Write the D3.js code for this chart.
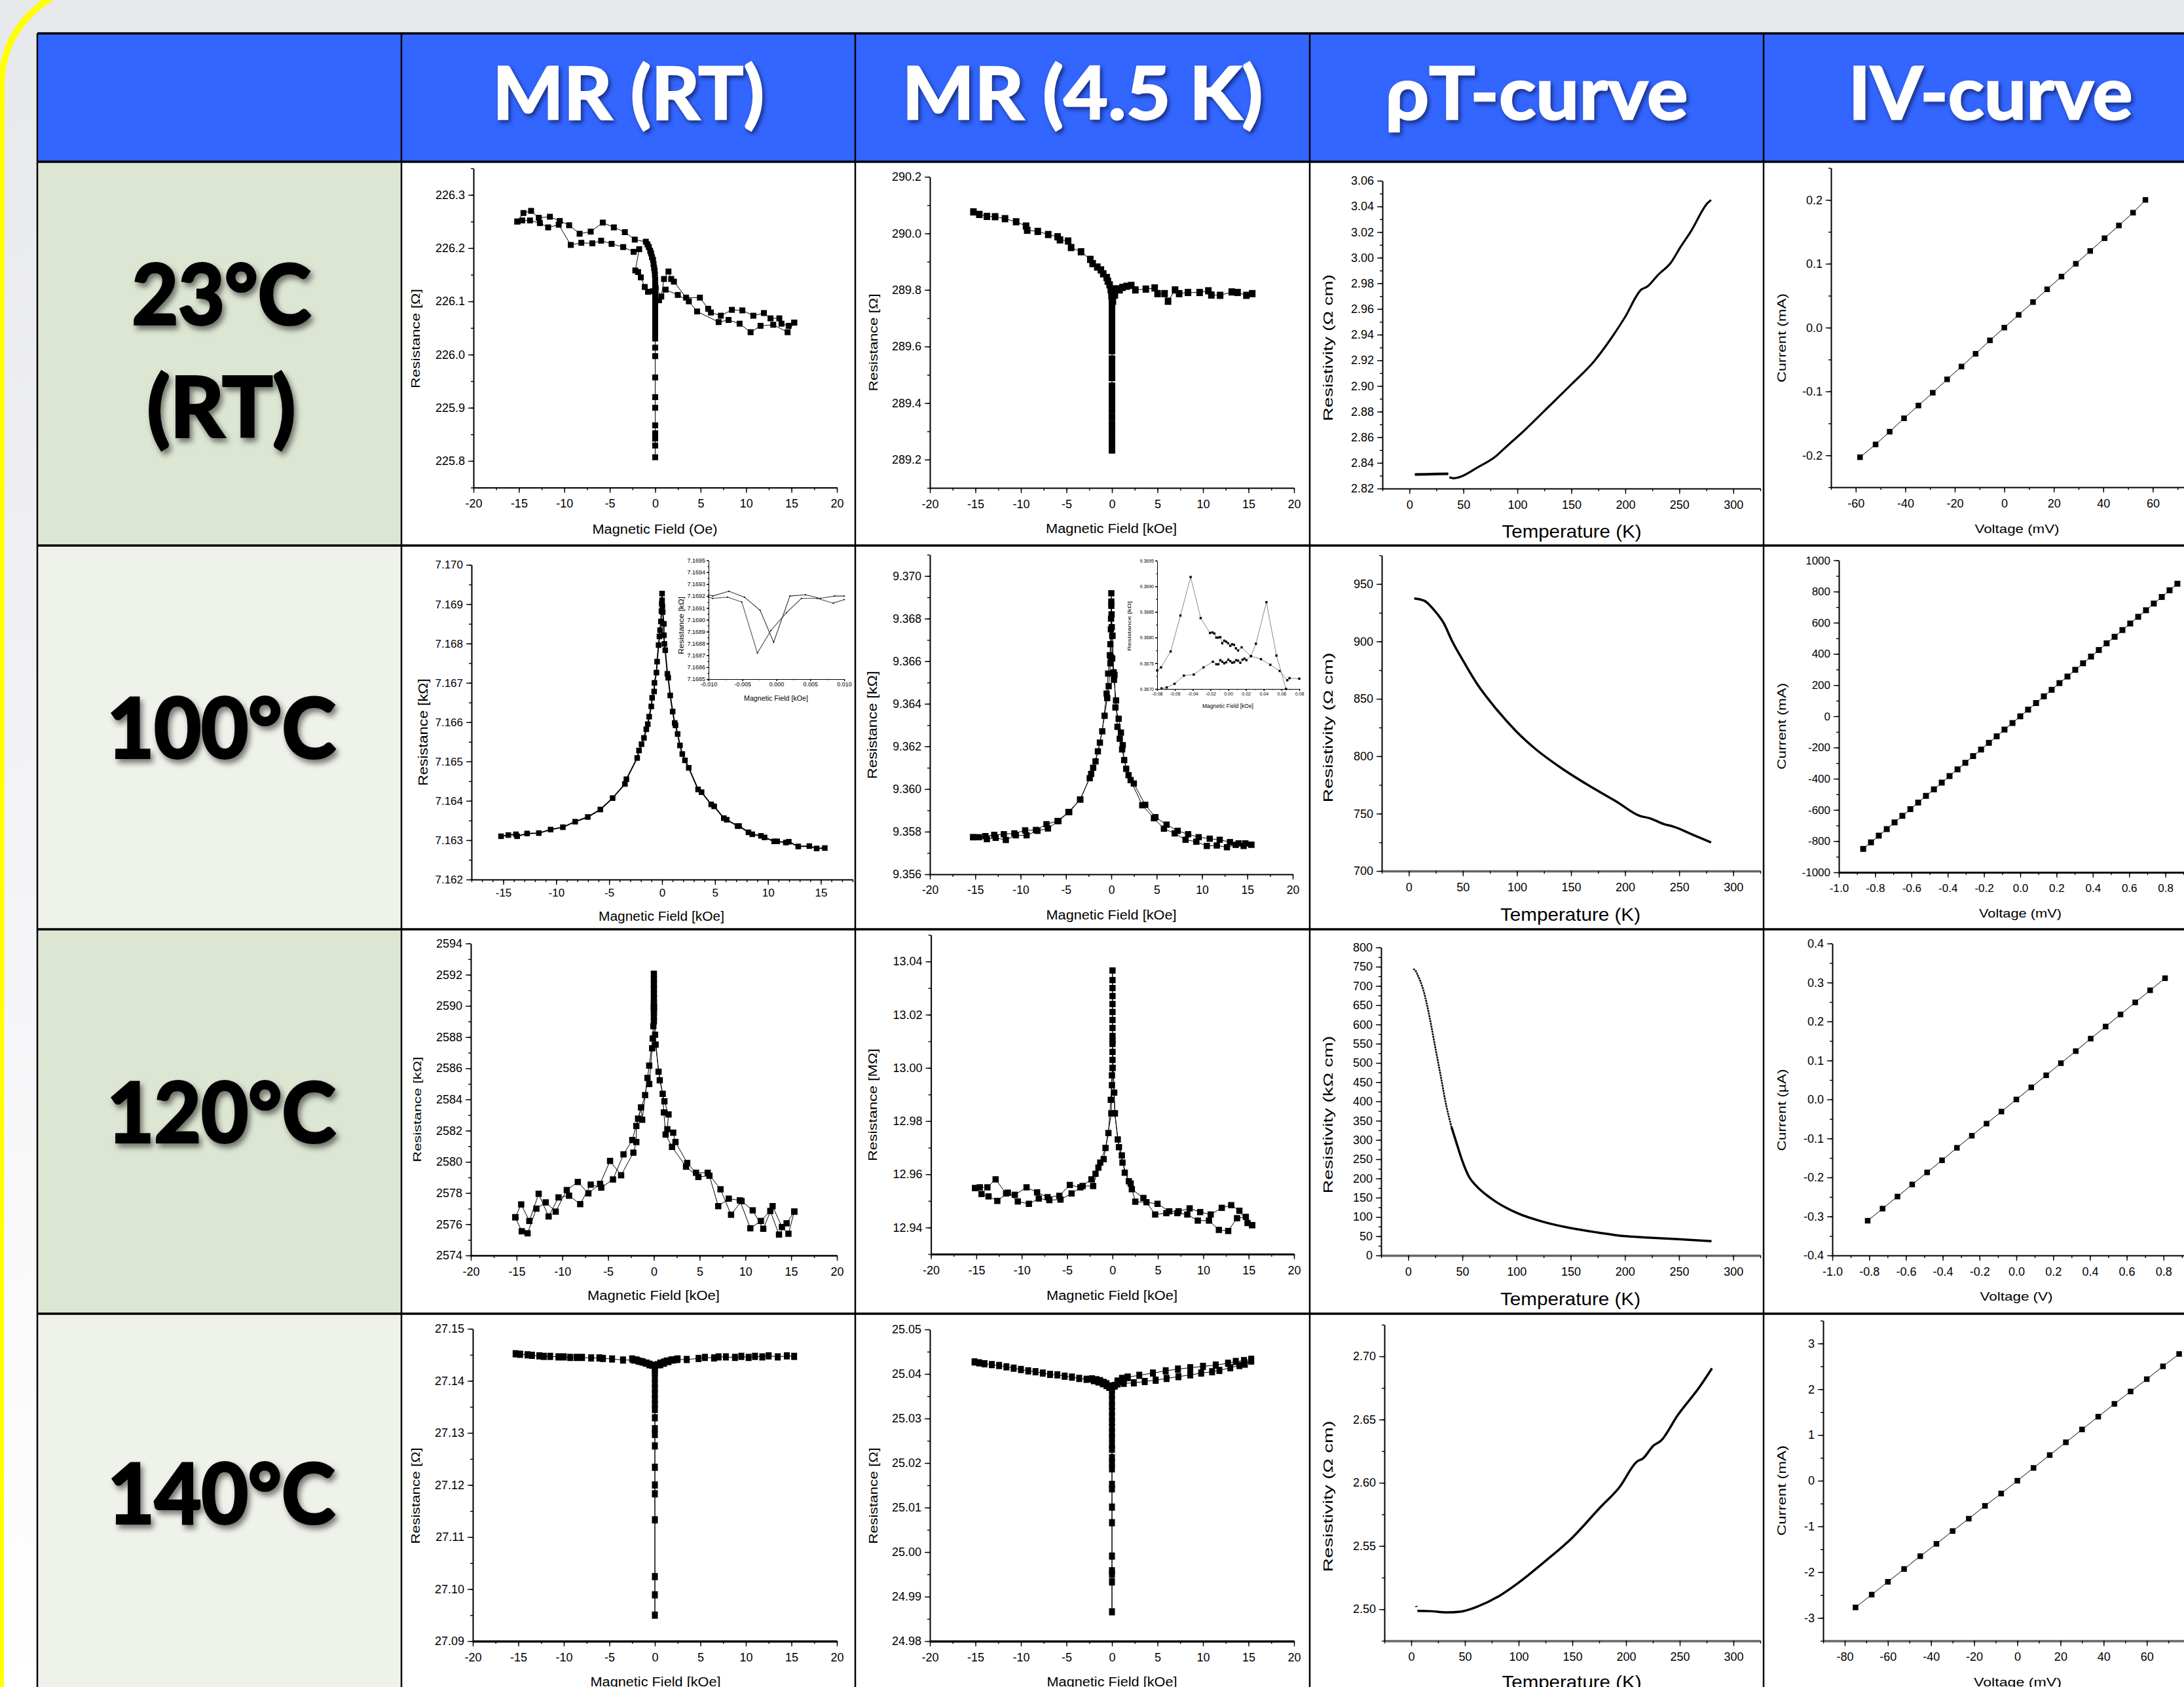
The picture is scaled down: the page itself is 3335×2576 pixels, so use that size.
<!DOCTYPE html>
<html lang="en">
<head>
<meta charset="UTF-8">
<title>MR, resistivity and IV summary table</title>
<script src="https://d3js.org/d3.v7.min.js"></script>
<style>
  html, body { margin: 0; padding: 0; background: #fff; overflow: hidden; }
  .plot text { font-family: "Liberation Sans", Arial, sans-serif; fill: #000; }
  .head { font-family: Lato, sans-serif; font-weight: 700; }
</style>
</head>
<body>
<svg id="page" width="3335" height="2576"></svg>
<script>
// table text
const headers = ["MR (RT)", "MR (4.5 K)", "\u03c1T-curve", "IV-curve"];
const rowLabels = [["23\u00b0C", "(RT)"], ["100\u00b0C"], ["120\u00b0C"], ["140\u00b0C"]];

// tick lists
const fieldTicks = [-20, -15, -10, -5, 0, 5, 10, 15, 20];
const field100Ticks = [-15, -10, -5, 0, 5, 10, 15];
const tempTicks = [0, 50, 100, 150, 200, 250, 300];
const unitVoltTicks = [-1, -0.8, -0.6, -0.4, -0.2, 0, 0.2, 0.4, 0.6, 0.8];

// 23C, MR at room temperature
const mr23RtA = [[-15.17,226.25],[-14.5,226.266],[-13.66,226.27],[-12.81,226.257],[-11.59,226.259],[-10.5,226.251],[-9.47,226.243],[-8.32,226.227],[-7.1,226.231],[-5.77,226.248],[-4.55,226.239],[-3.34,226.23],[-2.25,226.216],[-1.03,226.212],[-0.85,226.207],[-0.7,226.202],[-0.55,226.195],[-0.45,226.19],[-0.35,226.183],[-0.24,226.178],[-0.18,226.17],[-0.12,226.163],[-0.06,226.158],[-0.03,226.15],[0,226.14],[0,226.13],[0,226.12],[0,226.11],[0,226.1],[0,226.09],[0,226.08],[0,226.07],[0,226.06],[0,226.05],[0,226.04],[0,226.03],[0,226.013],[0,225.997],[0,225.957],[0,225.92],[0,225.867],[0,225.852],[0,225.842],[0,225.829],[0,225.807],[0,225.9],[0,226.05],[0,226.09],[0.42,226.102],[1.15,226.122],[2.49,226.112],[3.7,226.1],[4.61,226.081],[6.98,226.061],[8.07,226.065],[9.29,226.058],[10.5,226.042],[11.59,226.054],[12.99,226.056],[14.57,226.042],[15.3,226.06]];
const mr23RtB = [[-15.17,226.25],[-14.63,226.252],[-13.78,226.252],[-12.69,226.247],[-11.78,226.239],[-10.62,226.244],[-9.29,226.206],[-8.13,226.21],[-6.92,226.209],[-5.95,226.214],[-4.8,226.208],[-3.52,226.202],[-2.37,226.193],[-1.76,226.198],[-2.19,226.158],[-1.88,226.155],[-1.58,226.145],[-1.15,226.127],[-0.79,226.118],[-0.24,226.119],[0.06,226.125],[0.67,226.109],[0.97,226.142],[1.46,226.156],[1.76,226.142],[2.06,226.137],[3.4,226.107],[4.92,226.107],[5.83,226.086],[6.13,226.079],[7.22,226.073],[8.44,226.084],[9.59,226.083],[10.8,226.073],[11.96,226.078],[12.69,226.068],[13.66,226.068],[13.9,226.058],[14.69,226.054],[15.3,226.06]];

// 23C, MR at 4.5 K
const mr23Low = [[-15.22,290.076],[-14.57,290.067],[-13.74,290.06],[-12.84,290.059],[-11.75,290.052],[-10.53,290.041],[-9.44,290.026],[-9.31,290.011],[-8.15,290.007],[-7,289.996],[-5.97,289.988],[-5.71,289.977],[-4.82,289.973],[-4.49,289.95],[-3.4,289.935],[-2.38,289.908],[-2.12,289.893],[-1.61,289.881],[-1.22,289.871],[-0.96,289.857],[-0.58,289.844],[-0.45,289.831],[-0.26,289.818],[-0.13,289.8],[-0.05,289.78],[0,289.76],[0,289.74],[0,289.72],[0,289.7],[0,289.68],[0,289.66],[0,289.64],[0,289.62],[0,289.6],[0,289.585],[0,289.556],[0,289.54],[0,289.525],[0,289.505],[0,289.49],[0,289.46],[0,289.445],[0,289.43],[0,289.41],[0,289.395],[0,289.375],[0,289.35],[0,289.325],[0,289.31],[0,289.295],[0,289.27],[0,289.255],[0,289.234],[0,289.5],[0.1,289.76],[0.32,289.782],[0.45,289.804],[0.83,289.8],[1.16,289.809],[1.61,289.813],[2.12,289.816],[2.57,289.8],[3.72,289.803],[4.69,289.807],[5.01,289.787],[5.78,289.787],[6.16,289.76],[6.93,289.8],[7.38,289.787],[8.35,289.791],[9.63,289.791],[10.59,289.797],[10.92,289.782],[11.88,289.781],[13.16,289.793],[13.8,289.791],[14.77,289.781],[15.41,289.787]];

// 100C, MR at room temperature
const mr100Rt = [[-15.21,7.1631],[-14.52,7.16313],[-13.8,7.16315],[-13.69,7.1631],[-12.75,7.16317],[-11.64,7.16318],[-10.53,7.16327],[-9.37,7.16333],[-8.21,7.16347],[-7.02,7.16359],[-5.83,7.16378],[-4.67,7.16407],[-3.51,7.16443],[-3.37,7.16455],[-2.35,7.16509],[-2.18,7.16528],[-1.94,7.16544],[-1.71,7.1656],[-1.49,7.16582],[-1.35,7.16595],[-1.22,7.16614],[-1.02,7.1664],[-0.94,7.16662],[-0.75,7.16678],[-0.72,7.167],[-0.53,7.16726],[-0.47,7.16754],[-0.33,7.16796],[-0.25,7.16818],[-0.19,7.16834],[-0.11,7.16856],[-0.06,7.16882],[-0.03,7.16901],[0,7.16927],[0,7.1691],[0.03,7.16895],[0.06,7.1688],[0.17,7.1685],[0.17,7.16821],[0.22,7.16799],[0.3,7.16783],[0.5,7.16723],[0.58,7.16713],[0.77,7.16668],[1,7.16627],[1.19,7.16598],[1.27,7.16592],[1.47,7.1657],[1.69,7.16541],[1.91,7.16519],[2.16,7.16503],[2.52,7.16484],[3.4,7.16429],[3.73,7.16422],[4.64,7.16391],[4.92,7.16386],[5.83,7.16356],[6.11,7.16352],[7.13,7.16336],[7.27,7.16336],[8.16,7.1632],[8.52,7.16315],[9.34,7.16311],[9.68,7.16307],[10.59,7.16297],[10.87,7.16297],[11.69,7.16294],[11.97,7.16296],[12.86,7.16284],[13.91,7.16285],[14.6,7.16279],[15.37,7.1628]];
const inset100A = [[-0.01,7.16919],[-0.0094,7.16918],[-0.0072,7.16919],[-0.0051,7.16915],[-0.0028,7.16872],[-0.0008,7.16891],[0.0015,7.16906],[0.0037,7.16918],[0.006,7.16918],[0.0084,7.16914],[0.01,7.16917]];
const inset100B = [[-0.01,7.16921],[-0.0094,7.1692],[-0.007,7.16924],[-0.0047,7.16919],[-0.0024,7.16908],[-0.0004,7.16881],[0.002,7.1692],[0.0043,7.16921],[0.0065,7.16918],[0.0086,7.1692],[0.01,7.1692]];

// 100C, MR at 4.5 K
const mr100LowA = [[-15.23,9.35774],[-13.88,9.35779],[-12.91,9.35785],[-11.85,9.35788],[-10.69,9.35792],[-9.5,9.35806],[-8.31,9.35808],[-7.15,9.35835],[-5.93,9.3585],[-4.73,9.35892],[-3.45,9.35951],[-2.38,9.36051],[-2,9.361],[-1.48,9.36177],[-1,9.36271],[-0.52,9.36448],[-0.35,9.36542],[-0.16,9.36628],[-0.1,9.3668],[-0.05,9.3675],[-0.03,9.368],[0,9.36919],[0,9.3686],[0.1,9.36719],[0.13,9.3672],[0.26,9.36548],[0.35,9.36536],[0.45,9.36383],[0.81,9.3633],[1.06,9.36265],[1.26,9.36206],[1.42,9.36136],[1.9,9.36065],[2.48,9.36026],[3.74,9.35926],[4.86,9.35868],[6.09,9.35833],[7.31,9.35804],[8.47,9.35788],[9.63,9.35774],[10.85,9.35767],[11.95,9.35762],[13.08,9.35751],[14.04,9.35745],[14.78,9.35745],[15.43,9.35739]];
const mr100LowB = [[-15.23,9.35774],[-14.59,9.35774],[-13.72,9.35765],[-12.75,9.35771],[-11.63,9.35761],[-10.53,9.35783],[-9.34,9.35783],[-8.15,9.35804],[-6.99,9.35815],[-5.83,9.3585],[-4.64,9.35892],[-3.41,9.35951],[-2.22,9.36071],[-1.74,9.3613],[-1.26,9.36218],[-0.74,9.36344],[-0.45,9.36427],[-0.29,9.36483],[-0.1,9.3659],[-0.05,9.3662],[0,9.3688],[0.03,9.3682],[0.05,9.3676],[0.1,9.36613],[0.29,9.36513],[0.52,9.36416],[0.68,9.36292],[0.93,9.36236],[1.19,9.36186],[1.64,9.36095],[2.13,9.36042],[3.41,9.35924],[4.7,9.35863],[5.8,9.35814],[6.99,9.35792],[8.18,9.35762],[9.37,9.35753],[10.53,9.35733],[11.63,9.35735],[12.75,9.35727],[13.72,9.35738],[14.59,9.35733],[15.43,9.35739]];
const inset100LowA = [[-0.08,9.36736],[-0.0756,9.36742],[-0.0648,9.36773],[-0.0538,9.36843],[-0.0423,9.36918],[-0.031,9.36838],[-0.0205,9.36809],[-0.0178,9.3681],[-0.0156,9.36808],[-0.0134,9.368],[-0.0111,9.368],[-0.0089,9.36801],[-0.0067,9.36789],[-0.0045,9.36794],[-0.0023,9.36792],[-0.0001,9.36789],[0.0023,9.36784],[0.0043,9.36787],[0.0065,9.36786],[0.0087,9.36779],[0.0111,9.36775],[0.0151,9.36781],[0.0256,9.36764],[0.0369,9.36758],[0.0474,9.36747],[0.058,9.36735],[0.0665,9.36717],[0.069,9.36721],[0.08,9.3672]];
const inset100LowB = [[-0.0751,9.36701],[-0.0692,9.36703],[-0.0604,9.3671],[-0.0499,9.36726],[-0.0388,9.36728],[-0.0278,9.36742],[-0.0173,9.36753],[-0.0134,9.36748],[-0.0111,9.36748],[-0.0089,9.36756],[-0.0067,9.36753],[-0.0045,9.3675],[-0.0023,9.36752],[0.0001,9.36757],[0.0023,9.36754],[0.0045,9.36751],[0.0067,9.36752],[0.0089,9.36756],[0.0111,9.36755],[0.0136,9.36751],[0.0161,9.36757],[0.0183,9.36759],[0.0205,9.36756],[0.0256,9.36764],[0.0312,9.36788],[0.043,9.36869],[0.0543,9.36765],[0.0651,9.367]];

// 120C, MR at room temperature
const mr120RtA = [[-15.14,2576.45],[-14.5,2577.27],[-13.61,2576.21],[-12.59,2577.95],[-11.5,2576.5],[-10.42,2577.72],[-9.27,2577.83],[-8.05,2577.29],[-6.9,2578.54],[-5.75,2578.35],[-4.47,2578.87],[-3.32,2580.48],[-2.36,2581.4],[-1.73,2582.77],[-0.96,2584.28],[-0.51,2586.17],[-0.13,2587.91],[0,2589],[0,2589.3],[0,2589.6],[0,2589.9],[0,2590.2],[0,2590.5],[0,2590.8],[0,2591.1],[0,2591.4],[0,2591.7],[0,2592.06],[0,2590],[0.13,2588.15],[0.51,2585.78],[0.96,2584.36],[1.09,2583.17],[1.28,2581.75],[1.98,2580.96],[3.51,2579.69],[4.86,2579.03],[6.07,2579.11],[7.03,2577.16],[8.18,2577.64],[9.39,2577.53],[10.54,2575.74],[11.69,2576.21],[12.72,2576.85],[13.67,2575.34],[14.5,2576.06],[15.34,2576.81]];
const mr120RtB = [[-15.14,2576.45],[-14.44,2575.55],[-13.8,2575.42],[-12.84,2577],[-11.82,2577.4],[-10.73,2576.81],[-9.52,2578.19],[-8.31,2578.71],[-7.16,2577.98],[-5.88,2578.59],[-4.79,2580.06],[-3.58,2579.14],[-2.24,2580.59],[-1.92,2581.27],[-1.92,2582.3],[-1.41,2583.49],[-1.28,2582.7],[-0.7,2585.38],[-0.51,2584.99],[-0.19,2587.28],[-0.06,2588.7],[0,2589.8],[0.19,2587.52],[0.64,2585.23],[1.15,2583.88],[1.6,2583.04],[1.47,2582.09],[2.11,2581.87],[2.36,2581.27],[3.64,2579.93],[4.6,2579.3],[5.88,2579.3],[7.28,2578.24],[8.43,2576.61],[9.58,2577.48],[10.8,2576.89],[11.95,2575.71],[12.97,2577.16],[13.99,2575.82],[14.7,2575.39],[15.34,2576.81]];

// 120C, MR at 4.5 K
const mr120LowA = [[-15.14,12.9548],[-14.43,12.9526],[-13.66,12.9517],[-12.69,12.95],[-11.53,12.9531],[-10.43,12.9498],[-9.21,12.9489],[-8.12,12.9509],[-6.96,12.9503],[-5.73,12.9505],[-4.51,12.9528],[-3.29,12.9556],[-2.13,12.9556],[-1.55,12.9625],[-0.97,12.9657],[-0.45,12.9755],[-0.19,12.988],[-0.06,12.9972],[0,13],[0,13.003],[0,13.006],[0,13.009],[0,13.012],[0,13.015],[0,13.018],[0,13.021],[0,13.024],[0,13.027],[0,13.03],[0,13.033],[0,13.0366],[0,13.01],[0.26,12.9829],[0.58,12.9731],[1.03,12.9671],[1.35,12.9606],[2,12.9565],[2.51,12.9497],[3.74,12.9495],[4.96,12.9489],[6.25,12.9461],[7.28,12.9461],[8.5,12.9472],[9.66,12.9458],[10.82,12.9449],[12.04,12.9474],[13.08,12.9484],[13.98,12.9463],[14.88,12.9417],[15.39,12.9409]];
const mr120LowB = [[-15.14,12.9548],[-14.62,12.9551],[-13.78,12.9551],[-12.88,12.9581],[-11.72,12.9528],[-10.76,12.9523],[-9.47,12.9551],[-8.31,12.9532],[-7.15,12.9514],[-5.86,12.9519],[-4.7,12.956],[-3.54,12.9551],[-2.32,12.9581],[-1.87,12.9602],[-1.35,12.9644],[-0.77,12.9699],[-0.13,12.9829],[-0.06,12.9935],[0,13],[0.19,12.9907],[0.26,12.9829],[0.71,12.9702],[1.1,12.9644],[1.8,12.9574],[2.13,12.9544],[3.41,12.9511],[4.7,12.9449],[5.93,12.9454],[7.15,12.9454],[8.24,12.9449],[9.4,12.9426],[10.63,12.9426],[11.72,12.9391],[12.75,12.9387],[13.72,12.9435],[14.69,12.944],[15.39,12.9409]];

// 140C, MR at room temperature
const mr140Rt = [[-15.3,27.1452],[-14.8,27.1451],[-14,27.145],[-13.5,27.1449],[-12.7,27.1448],[-12.2,27.1447],[-11.5,27.1447],[-10.6,27.1446],[-10,27.1446],[-9.3,27.1445],[-8.6,27.1445],[-8,27.1445],[-7,27.1444],[-6.1,27.1444],[-5.7,27.1443],[-4.7,27.1442],[-3.5,27.144],[-2.3,27.144],[-1.8,27.1438],[-1.3,27.1436],[-0.9,27.1434],[-0.6,27.1432],[-0.3,27.143],[0,27.1428],[0,27.1415],[0,27.1405],[0,27.1395],[0,27.1385],[0,27.1375],[0,27.1365],[0,27.1355],[0,27.1345],[0,27.1329],[0,27.1308],[0,27.1297],[0,27.1275],[0,27.1234],[0,27.1183],[0,27.1133],[0,27.1024],[0,27.0989],[0,27.095],[0,27.12],[0,27.142],[0.3,27.1431],[0.6,27.1434],[1,27.1436],[1.3,27.1438],[1.8,27.144],[2.4,27.1441],[3.5,27.1441],[4.8,27.1443],[5.5,27.1445],[6.5,27.1444],[7,27.1446],[7.8,27.1446],[8.8,27.1445],[9.5,27.1447],[10.3,27.1445],[11,27.1447],[11.8,27.1446],[12.5,27.1448],[13.5,27.1446],[14.5,27.1448],[15.3,27.1447]];
const mr140RtCore = [[-2.5,27.1442],[-2,27.144],[-1.5,27.1437],[-1,27.1434],[-0.6,27.1431],[0.6,27.1431],[1,27.1434],[1.5,27.1437],[2,27.144],[2.5,27.1442]];

// 140C, MR at 4.5 K
const mr140Low = [[-15.1,25.0427],[-14.6,25.0425],[-14,25.0423],[-13.2,25.0421],[-12.4,25.0419],[-11.6,25.0416],[-10.8,25.0413],[-10,25.041],[-9.2,25.0407],[-8.4,25.0405],[-7.6,25.0402],[-6.8,25.0399],[-6,25.0398],[-5.2,25.0395],[-4.4,25.0393],[-3.6,25.039],[-2.8,25.0388],[-2,25.0385],[-1.5,25.0382],[-1,25.0378],[-0.6,25.0374],[-0.3,25.037],[0,25.0366],[0,25.0352],[0,25.034],[0,25.0328],[0,25.0316],[0,25.0304],[0,25.0292],[0,25.028],[0,25.0268],[0,25.0256],[0,25.0241],[0,25.0231],[0,25.0212],[0,25.0187],[0,25.0152],[0,25.0142],[0,25.0101],[0,25.0066],[0,24.9991],[0,24.9958],[0,24.995],[0,24.9933],[0,24.9866],[0,25.02],[0,25.037],[0.3,25.0374],[0.6,25.0378],[1.3,25.0379],[2.4,25.038],[3.6,25.0383],[4.8,25.0386],[6,25.039],[7.3,25.0394],[8.6,25.0398],[9.8,25.0402],[11,25.0405],[11.8,25.0408],[13,25.0414],[14,25.0419],[14.6,25.0422],[15.3,25.0429]];
const mr140LowUp = [[0.6,25.0384],[1.1,25.039],[1.74,25.0393],[3,25.0397],[4.5,25.0402],[5.9,25.0407],[7.25,25.0411],[8.6,25.0414],[10,25.0417],[11.4,25.042],[12.75,25.0424],[13.6,25.0428],[14.5,25.043],[15.3,25.0433]];
const mr140LowCore = [[-2.2,25.0389],[-1.7,25.0387],[-1.3,25.0385],[-0.9,25.0381],[-0.6,25.0378],[-0.3,25.0373],[0.3,25.0373],[0.6,25.0378],[1,25.0383],[1.3,25.0388],[1.7,25.0392]];

// rho-T curves
const rhoT23A = [[5,2.831],[15,2.8311],[25,2.8313],[36,2.8315]];
const rhoT23B = [[37,2.8288],[41,2.828],[47.4,2.8292],[63,2.8364],[79,2.8445],[91,2.8536],[104,2.8634],[125,2.8806],[150.5,2.9016],[171,2.9192],[186.6,2.9368],[199.5,2.9534],[215,2.9753],[220,2.9773],[230.4,2.9867],[242,2.9959],[251,3.0082],[261,3.0209],[276,3.0424],[279.4,3.045]];
const rhoT100 = [[5,937.5],[14.4,935.4],[23,927.7],[32.4,915.7],[40,900.4],[50.4,882.9],[63,863.2],[78.7,843.6],[99.3,821.7],[117,806.4],[140.5,790],[166,774.7],[192,760.5],[213.6,748],[223,745.9],[236,740.9],[244.5,738.7],[264,731],[279.5,724.9]];
const rhoT120Top = [[4.6,744],[6.7,740],[8.2,731.5],[14.4,685],[19.6,621],[24.7,544.6],[29.9,467.8],[35,391],[40,333]];
const rhoT120 = [[40,333],[43.7,300],[50,245],[56,205],[63,180],[75,151],[100,110.7],[125,87],[150,71],[175,59.5],[200,50],[217.7,46.7],[250,42],[280,37]];
const rhoT140A = [[4.7,2.5025],[4.9,2.5018]];
const rhoT140B = [[5.7,2.4987],[17,2.4985],[32.7,2.4975],[45.7,2.4981],[61,2.5019],[82,2.5105],[100,2.521],[123.5,2.5371],[149.5,2.5562],[175.4,2.58],[193.6,2.5962],[210.7,2.6171],[215.4,2.619],[225.7,2.6295],[232.5,2.6333],[248,2.6533],[268.8,2.6762],[280,2.6905]];

// IV curves
const iv23V = [-58.3,-52,-46.3,-40.5,-34.7,-28.9,-23.1,-17.3,-11.6,-5.8,0,5.8,11.6,17.3,23.1,28.9,34.7,40.5,46.3,52,57];
const iv23I = [-0.203,-0.183,-0.163,-0.142,-0.122,-0.102,-0.081,-0.061,-0.041,-0.02,0,0.02,0.04,0.06,0.08,0.1,0.12,0.14,0.16,0.18,0.2];
const iv100V = [-0.866,-0.823,-0.78,-0.736,-0.693,-0.65,-0.606,-0.563,-0.52,-0.476,-0.433,-0.39,-0.346,-0.303,-0.26,-0.216,-0.173,-0.13,-0.087,-0.043,0,0.043,0.087,0.13,0.173,0.216,0.26,0.303,0.346,0.39,0.433,0.476,0.52,0.563,0.606,0.65,0.693,0.736,0.78,0.823,0.866];
const iv100I = [-850,-808,-765,-723,-680,-638,-595,-553,-510,-468,-425,-383,-340,-298,-255,-213,-170,-128,-85,-43,0,43,85,128,170,213,255,298,340,383,425,468,510,553,595,638,680,723,765,808,850];
const iv120V = [-0.808,-0.727,-0.646,-0.566,-0.485,-0.404,-0.323,-0.242,-0.162,-0.081,0,0.081,0.162,0.242,0.323,0.404,0.485,0.566,0.646,0.727,0.808];
const iv120I = [-0.311,-0.28,-0.249,-0.218,-0.187,-0.156,-0.124,-0.093,-0.062,-0.031,0,0.031,0.062,0.093,0.124,0.156,0.187,0.218,0.249,0.28,0.311];
const iv140V = [-75,-67.5,-60,-52.5,-45,-37.5,-30,-22.5,-15,-7.5,0,7.5,15,22.5,30,37.5,45,52.5,60,67.5,75];
const iv140I = [-2.77,-2.49,-2.21,-1.93,-1.65,-1.38,-1.1,-0.83,-0.55,-0.28,0,0.28,0.56,0.84,1.12,1.4,1.68,1.95,2.22,2.5,2.77];

const svg = d3.select("#page");
const defs = svg.append("defs");
const bg = defs.append("linearGradient").attr("id", "bg").attr("x1", 0).attr("y1", 0).attr("x2", 0).attr("y2", 1);
bg.append("stop").attr("offset", 0).attr("stop-color", "#e7e8ec");
bg.append("stop").attr("offset", 1).attr("stop-color", "#ffffff");

svg.append("rect").attr("width", 3335).attr("height", 2576).attr("fill", "url(#bg)");

// yellow slide border
const edge = d3.path();
edge.moveTo(82, -6);
edge.quadraticCurveTo(6, 40, 2, 125);
edge.lineTo(1, 2590);
svg.append("path").attr("d", edge.toString()).attr("fill", "none").attr("stroke", "#ffff00").attr("stroke-width", 10);

// table grid
const colX = [57, 613, 1306, 2000, 2693, 3386];
const rowY = [51, 247, 833, 1419, 2006, 2600];
const rowFill = ["#dde6d3", "#eff2ea", "#dde6d3", "#eff2ea"];

svg.append("rect").attr("x", colX[0]).attr("y", rowY[0]).attr("width", colX[5] - colX[0]).attr("height", rowY[1] - rowY[0]).attr("fill", "#3366ff");
rowFill.forEach((f, i) => {
  svg.append("rect").attr("x", colX[0]).attr("y", rowY[i + 1]).attr("width", colX[1] - colX[0]).attr("height", rowY[i + 2] - rowY[i + 1]).attr("fill", f);
  svg.append("rect").attr("x", colX[1]).attr("y", rowY[i + 1]).attr("width", colX[5] - colX[1]).attr("height", rowY[i + 2] - rowY[i + 1]).attr("fill", "#fff");
});

const plots = svg.append("g").attr("class", "plot");

const lines = svg.append("g");
colX.slice(0, 5).forEach(x => lines.append("line").attr("x1", x).attr("x2", x).attr("y1", rowY[0]).attr("y2", 2576).attr("stroke", "#000").attr("stroke-width", 2.5));
rowY.slice(0, 5).forEach(y => lines.append("line").attr("x1", colX[0]).attr("x2", 3335).attr("y1", y).attr("y2", y).attr("stroke", "#000").attr("stroke-width", 3.5));

// headers and row labels
const headWidth = [415, 551, 462, 434];
headers.forEach((t, i) => {
  svg.append("text").attr("class", "head")
    .attr("x", (colX[i + 1] + colX[i + 2]) / 2).attr("y", 182)
    .attr("text-anchor", "middle").attr("font-size", 112).attr("fill", "#fff")
    .attr("stroke", "#fff").attr("stroke-width", 2.5)
    .attr("textLength", headWidth[i]).attr("lengthAdjust", "spacingAndGlyphs")
    .style("filter", "drop-shadow(3px 4px 3px rgba(0,0,30,0.55))")
    .text(t);
});

const labelBase = [[495, 667], [1157], [1744], [2326]];
const labelWidth = [[273, 227], [349], [349], [347]];
rowLabels.forEach((lines, i) => {
  lines.forEach((t, j) => {
    svg.append("text").attr("class", "head")
      .attr("x", 338).attr("y", labelBase[i][j])
      .attr("text-anchor", "middle").attr("font-size", 127).attr("fill", "#000")
      .attr("stroke", "#000").attr("stroke-width", 4)
      .attr("textLength", labelWidth[i][j]).attr("lengthAdjust", "spacingAndGlyphs")
      .style("filter", "drop-shadow(4px 6px 4px rgba(0,0,0,0.5))")
      .text(t);
  });
});

const fmt = spec => v => d3.format(spec)(v).replace("\u2212", "-");

// draw one Origin style plot
function drawPlot(p) {
  const o = Object.assign({ tick: 8, minor: 4, font: 18, xPad: 10, yPad: 5, xAxisW: 2, yAxisW: 2, axisColor: "#000" }, p);
  const g = plots.append("g");
  const x = d3.scaleLinear().domain(o.xDom).range(o.xPx);
  const y = d3.scaleLinear().domain(o.yDom).range(o.yPx);

  const minorOf = (dom, step) => d3.range(dom[0], dom[1] + step / 2, step);

  const xAxis = g.append("g").attr("transform", `translate(0,${o.yPx[0]})`)
    .call(d3.axisBottom(x).tickValues(o.xTicks).tickSizeInner(o.tick).tickSizeOuter(0).tickPadding(o.xPad).tickFormat(fmt(o.xFmt)));
  g.append("g").attr("transform", `translate(0,${o.yPx[0]})`)
    .call(d3.axisBottom(x).tickValues(minorOf(o.xDom, o.xStep)).tickSize(o.minor).tickFormat(""))
    .select(".domain").remove();
  const yAxis = g.append("g").attr("transform", `translate(${o.xPx[0]},0)`)
    .call(d3.axisLeft(y).tickValues(o.yTicks).tickSizeInner(o.tick).tickSizeOuter(0).tickPadding(o.yPad).tickFormat(fmt(o.yFmt)));
  g.append("g").attr("transform", `translate(${o.xPx[0]},0)`)
    .call(d3.axisLeft(y).tickValues(minorOf(o.yDom, o.yStep)).tickSize(o.minor).tickFormat(""))
    .select(".domain").remove();

  g.selectAll(".tick text").attr("font-size", o.font).attr("font-family", null);
  g.selectAll(".tick line").attr("stroke-width", 1.4);
  xAxis.select(".domain").attr("stroke", o.axisColor).attr("stroke-width", o.xAxisW);
  yAxis.select(".domain").attr("stroke-width", o.yAxisW);

  // axis titles
  const [xt, xc, xm, xl, xf] = o.xTitle;
  g.append("text").attr("x", xc).attr("y", xm).attr("dy", ".35em").attr("text-anchor", "middle")
    .attr("font-size", xf).attr("textLength", xl).attr("lengthAdjust", "spacingAndGlyphs").text(xt);
  const [yt, yc, ym, yl, yf] = o.yTitle;
  g.append("text").attr("transform", `translate(${yc},${ym}) rotate(-90)`).attr("dy", ".35em").attr("text-anchor", "middle")
    .attr("font-size", yf).attr("textLength", yl).attr("lengthAdjust", "spacingAndGlyphs").text(yt);

  o.series.forEach(s => {
    const line = d3.line().x(d => x(d[0])).y(d => y(d[1]));
    if (s.smooth) line.curve(d3.curveMonotoneX);
    g.append("path").datum(s.data).attr("d", line).attr("fill", "none")
      .attr("stroke", s.color || "#000").attr("stroke-width", s.width || 1)
      .attr("stroke-dasharray", s.dash || null);
    if (s.mark) {
      const mh = s.markH || s.mark;
      g.append("g").selectAll("rect").data(s.data).join("rect")
        .attr("x", d => x(d[0]) - s.mark / 2)
        .attr("y", d => y(d[1]) - mh / 2)
        .attr("width", s.mark).attr("height", mh).attr("fill", "#000");
    }
  });
}

const mrTitle = "Magnetic Field [kOe]";

// row 1
drawPlot({ xPx: [723, 1278], yPx: [744.5, 257], xDom: [-20, 20], yDom: [225.75, 226.35],
  xTicks: fieldTicks, yTicks: [225.8, 225.9, 226, 226.1, 226.2, 226.3], xStep: 2.5, yStep: 0.05, xFmt: "d", yFmt: ".1f",
  xTitle: ["Magnetic Field (Oe)", 1000, 808, 191, 20], yTitle: ["Resistance [\u03a9]", 635, 517, 152, 18],
  series: [{ data: mr23RtA, mark: 9 }, { data: mr23RtB, mark: 9 }] });
drawPlot({ xPx: [1420, 1976], yPx: [745, 270], xDom: [-20, 20], yDom: [289.1, 290.2],
  xTicks: fieldTicks, yTicks: [289.2, 289.4, 289.6, 289.8, 290, 290.2], xStep: 2.5, yStep: 0.1, xFmt: "d", yFmt: ".1f",
  xTitle: [mrTitle, 1697, 807, 200, 20], yTitle: ["Resistance [\u03a9]", 1334, 523, 149, 18],
  series: [{ data: mr23Low, mark: 10, markH: 11 }] });
drawPlot({ xPx: [2111, 2688], yPx: [746, 276], xDom: [-25, 325], yDom: [2.82, 3.06],
  xTicks: tempTicks, yTicks: [2.82, 2.84, 2.86, 2.88, 2.9, 2.92, 2.94, 2.96, 2.98, 3, 3.02, 3.04, 3.06], xStep: 25, yStep: 0.01, xFmt: "d", yFmt: ".2f",
  xTitle: ["Temperature (K)", 2400, 811, 213, 28], yTitle: ["Resistivity (\u03a9 cm)", 2028, 531, 224, 21],
  series: [{ data: rhoT23A, width: 4 }, { data: rhoT23B, width: 3.2, smooth: true }] });
drawPlot({ xPx: [2796, 3363], yPx: [744, 256.5], xDom: [-70, 80], yDom: [-0.25, 0.25],
  xTicks: [-60, -40, -20, 0, 20, 40, 60], yTicks: [-0.2, -0.1, 0, 0.1, 0.2], xStep: 10, yStep: 0.05, xFmt: "d", yFmt: ".1f",
  xTitle: ["Voltage (mV)", 3080, 807, 129, 19], yTitle: ["Current (mA)", 2721, 516, 136, 18],
  series: [{ data: d3.zip(iv23V, iv23I), mark: 8.5 }] });

// row 2
drawPlot({ xPx: [720, 1302], yPx: [1343, 862.5], xDom: [-18, 18], yDom: [7.162, 7.17],
  xTicks: field100Ticks, yTicks: [7.162, 7.163, 7.164, 7.165, 7.166, 7.167, 7.168, 7.169, 7.17], xStep: 1, yStep: 0.0005, xFmt: "d", yFmt: ".3f",
  font: 17, xPad: 6, xTitle: [mrTitle, 1010, 1399, 192, 20], yTitle: ["Resistance [k\u03a9]", 646, 1118, 164, 20],
  series: [{ data: mr100Rt, mark: 8.5, width: 2 }] });
drawPlot({ xPx: [1082, 1289], yPx: [1037, 855.7], xDom: [-0.01, 0.01], yDom: [7.1685, 7.1695],
  xTicks: [-0.01, -0.005, 0, 0.005, 0.01], yTicks: [7.1685, 7.1686, 7.1687, 7.1688, 7.1689, 7.169, 7.1691, 7.1692, 7.1693, 7.1694, 7.1695], xStep: 0.0025, yStep: 0.00005, xFmt: ".3f", yFmt: ".4f",
  font: 9, tick: 3, minor: 1.5, xPad: 2, yPad: 2, xAxisW: 1, yAxisW: 1,
  xTitle: [mrTitle, 1185, 1066, 98, 11], yTitle: ["Resistance [k\u03a9]", 1040, 955, 88, 10],
  series: [{ data: inset100A, mark: 1.8, color: "#666", width: 1.3 }, { data: inset100B, mark: 1.8, color: "#333", width: 1.1 }] });
drawPlot({ xPx: [1420, 1974], yPx: [1335, 847], xDom: [-20, 20], yDom: [9.356, 9.371],
  xTicks: fieldTicks, yTicks: [9.356, 9.358, 9.36, 9.362, 9.364, 9.366, 9.368, 9.37], xStep: 2.5, yStep: 0.001, xFmt: "d", yFmt: ".3f",
  font: 17.5, xTitle: [mrTitle, 1697, 1397, 199, 21], yTitle: ["Resistance [k\u03a9]", 1332, 1107, 165, 21],
  series: [{ data: mr100LowA, mark: 9.5 }, { data: mr100LowB, mark: 9.5 }] });
drawPlot({ xPx: [1767, 1984], yPx: [1052, 856], xDom: [-0.08, 0.08], yDom: [9.367, 9.3695],
  xTicks: [-0.08, -0.06, -0.04, -0.02, 0, 0.02, 0.04, 0.06, 0.08], yTicks: [9.367, 9.3675, 9.368, 9.3685, 9.369, 9.3695], xStep: 0.01, yStep: 0.00025, xFmt: ".2f", yFmt: ".4f",
  font: 7, tick: 3, minor: 1.5, xPad: 2, yPad: 2, xAxisW: 1, yAxisW: 1,
  xTitle: [mrTitle, 1875, 1078, 78, 9], yTitle: ["Resistance [k\u03a9]", 1724, 956, 76, 8],
  series: [{ data: inset100LowA, mark: 3.4, color: "#888", width: 1 }, { data: inset100LowB, mark: 3.4, color: "#888", width: 1 }] });
drawPlot({ xPx: [2110, 2688], yPx: [1330, 848], xDom: [-25, 325], yDom: [700, 975],
  xTicks: tempTicks, yTicks: [700, 750, 800, 850, 900, 950], xStep: 25, yStep: 25, xFmt: "d", yFmt: "d",
  xAxisW: 3.5, axisColor: "#666",
  xTitle: ["Temperature (K)", 2398, 1396, 214, 28], yTitle: ["Resistivity (\u03a9 cm)", 2028, 1111, 229, 21],
  series: [{ data: rhoT100, width: 3.5, smooth: true }] });
drawPlot({ xPx: [2808, 3362], yPx: [1332, 855.6], xDom: [-1, 1], yDom: [-1000, 1000],
  xTicks: unitVoltTicks, yTicks: [-1000, -800, -600, -400, -200, 0, 200, 400, 600, 800, 1000], xStep: 0.1, yStep: 100, xFmt: ".1f", yFmt: "d",
  font: 17, xAxisW: 3,
  xTitle: ["Voltage (mV)", 3085, 1394, 126, 19], yTitle: ["Current (mA)", 2721, 1109, 132, 18],
  series: [{ data: d3.zip(iv100V, iv100I), mark: 9 }] });

// row 3
drawPlot({ xPx: [719, 1278], yPx: [1917, 1440.7], xDom: [-20, 20], yDom: [2574, 2594],
  xTicks: fieldTicks, yTicks: [2574, 2576, 2578, 2580, 2582, 2584, 2586, 2588, 2590, 2592, 2594], xStep: 2.5, yStep: 1, xFmt: "d", yFmt: "d",
  xAxisW: 2.5, xTitle: [mrTitle, 998, 1978, 202, 20], yTitle: ["Resistance [k\u03a9]", 637, 1694, 161, 17],
  series: [{ data: mr120RtA, mark: 9.5 }, { data: mr120RtB, mark: 9.5 }] });
drawPlot({ xPx: [1421.6, 1976], yPx: [1915, 1427.5], xDom: [-20, 20], yDom: [12.93, 13.05],
  xTicks: fieldTicks, yTicks: [12.94, 12.96, 12.98, 13, 13.02, 13.04], xStep: 2.5, yStep: 0.01, xFmt: "d", yFmt: ".2f",
  xAxisW: 3, xTitle: [mrTitle, 1698, 1978, 200, 20], yTitle: ["Resistance [M\u03a9]", 1333, 1687, 172, 18],
  series: [{ data: mr120LowA, mark: 9.5 }, { data: mr120LowB, mark: 9.5 }] });
drawPlot({ xPx: [2109, 2688], yPx: [1917, 1446.7], xDom: [-25, 325], yDom: [0, 800],
  xTicks: tempTicks, yTicks: [0, 50, 100, 150, 200, 250, 300, 350, 400, 450, 500, 550, 600, 650, 700, 750, 800], xStep: 25, yStep: 25, xFmt: "d", yFmt: "d",
  xAxisW: 3.5, axisColor: "#666",
  xTitle: ["Temperature (K)", 2398, 1983, 214, 28], yTitle: ["Resistivity (k\u03a9 cm)", 2028, 1702, 241, 21],
  series: [{ data: rhoT120Top, width: 2.6, dash: "3 1", smooth: true }, { data: rhoT120, width: 3.5, smooth: true }] });
drawPlot({ xPx: [2798, 3360], yPx: [1917, 1440.7], xDom: [-1, 1], yDom: [-0.4, 0.4],
  xTicks: unitVoltTicks, yTicks: [-0.4, -0.3, -0.2, -0.1, 0, 0.1, 0.2, 0.3, 0.4], xStep: 0.1, yStep: 0.05, xFmt: ".1f", yFmt: ".1f",
  xTitle: ["Voltage (V)", 3079, 1979, 111, 19], yTitle: ["Current (\u00b5A)", 2721, 1695, 125, 18],
  series: [{ data: d3.zip(iv120V, iv120I), mark: 8.5 }] });

// row 4
drawPlot({ xPx: [722, 1278], yPx: [2506, 2029], xDom: [-20, 20], yDom: [27.09, 27.15],
  xTicks: fieldTicks, yTicks: [27.09, 27.1, 27.11, 27.12, 27.13, 27.14, 27.15], xStep: 2.5, yStep: 0.005, xFmt: "d", yFmt: ".2f",
  xAxisW: 3.5, xTitle: [mrTitle, 1001, 2568, 199, 20], yTitle: ["Resistance [\u03a9]", 635, 2284, 147, 18],
  series: [{ data: mr140Rt, mark: 9, markH: 11 }, { data: mr140RtCore, mark: 9, markH: 11 }] });
drawPlot({ xPx: [1420, 1976], yPx: [2506, 2030], xDom: [-20, 20], yDom: [24.98, 25.05],
  xTicks: fieldTicks, yTicks: [24.98, 24.99, 25, 25.01, 25.02, 25.03, 25.04, 25.05], xStep: 2.5, yStep: 0.005, xFmt: "d", yFmt: ".2f",
  xAxisW: 3.5, xTitle: [mrTitle, 1698, 2568, 199, 20], yTitle: ["Resistance [\u03a9]", 1334, 2284, 147, 18],
  series: [{ data: mr140Low, mark: 9, markH: 11 }, { data: mr140LowUp, mark: 9, markH: 11 }, { data: mr140LowCore, mark: 9, markH: 11 }] });
drawPlot({ xPx: [2114, 2688], yPx: [2505.5, 2022.8], xDom: [-25, 325], yDom: [2.475, 2.725],
  xTicks: tempTicks, yTicks: [2.5, 2.55, 2.6, 2.65, 2.7], xStep: 25, yStep: 0.025, xFmt: "d", yFmt: ".2f",
  xAxisW: 3.5, axisColor: "#666",
  xTitle: ["Temperature (K)", 2400, 2568, 213, 28], yTitle: ["Resistivity (\u03a9 cm)", 2028, 2285, 231, 21],
  series: [{ data: rhoT140A, width: 4 }, { data: rhoT140B, width: 3.5, smooth: true }] });
drawPlot({ xPx: [2784, 3377], yPx: [2505.5, 2016.5], xDom: [-90, 90], yDom: [-3.5, 3.5],
  xTicks: [-80, -60, -40, -20, 0, 20, 40, 60, 80], yTicks: [-3, -2, -1, 0, 1, 2, 3], xStep: 10, yStep: 0.5, xFmt: "d", yFmt: "d",
  xAxisW: 3.5, axisColor: "#666",
  xTitle: ["Voltage (mV)", 3081, 2568, 134, 19], yTitle: ["Current (mA)", 2721, 2276, 138, 18],
  series: [{ data: d3.zip(iv140V, iv140I), mark: 8.5 }] });
</script>
</body>
</html>
